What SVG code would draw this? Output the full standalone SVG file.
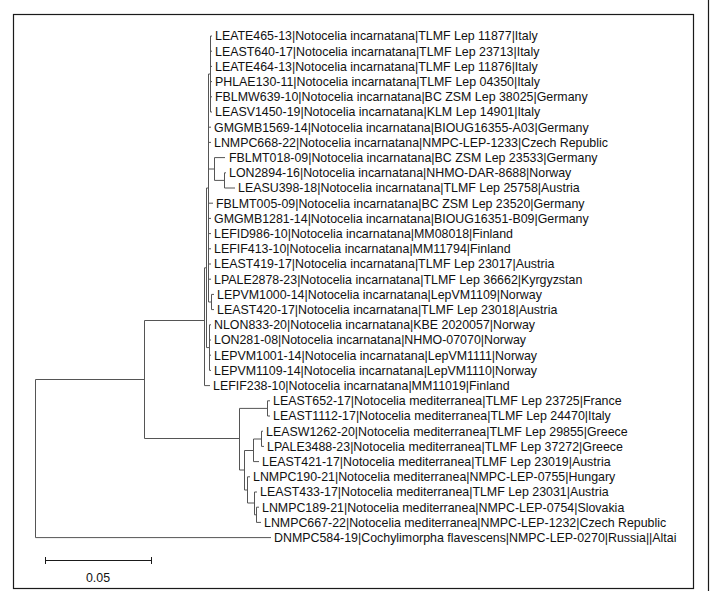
<svg xmlns="http://www.w3.org/2000/svg" width="710" height="607" viewBox="0 0 710 607">
<style>
.t{font-family:"Liberation Sans",Arial,sans-serif;font-size:12.4px;fill:#111}
.b{fill:none;stroke:#555;stroke-width:1}
.f{fill:none;stroke:#1a1a1a;stroke-width:1.2}
</style>
<rect width="710" height="607" fill="#fff"/>
<rect class="f" x="13.5" y="14.5" width="680" height="574"/>
<line class="f" x1="708.5" y1="0" x2="708.5" y2="591"/>
<g id="branches">
<path class="b" d="M35.5 379.5V537.6M35.5 379.5H144.5M35.5 537.6H271"/>
<path class="b" d="M144.5 320.5V438.5M144.5 320.5H204.5M144.5 438.5H239.5"/>
<path class="b" d="M204.5 267.8V385.6H210M204.5 267.8H206.5M206.5 188V347.6M206.5 188H208.5M206.5 347.6H209.5"/>
<path class="b" d="M208.5 74V302M208.5 74H210.5M210.5 36V112M210.5 36H212M210.5 51.2H212M210.5 66.4H212M210.5 81.6H212M210.5 96.8H212M210.5 112H212"/>
<path class="b" d="M208.5 127.2H211M208.5 142.4H211M208.5 169H214.5M214.5 157.6V180.4M214.5 157.6H225M214.5 180.4H224.5M224.5 172.8V188M224.5 172.8H226M224.5 188H235"/>
<path class="b" d="M208.5 203.2H213M208.5 218.4H211M208.5 233.6H211M208.5 248.8H211M208.5 264H211M208.5 279.2H211M208.5 302H211.5M211.5 294.4V309.6M211.5 294.4H214M211.5 309.6H214"/>
<path class="b" d="M209.5 324.8V370.4M209.5 324.8H211M209.5 340H211M209.5 355.2H211M209.5 370.4H211"/>
<path class="b" d="M239.5 408.4V470M239.5 408.4H267.5M267.5 400.8V416M267.5 400.8H270M267.5 416H270"/>
<path class="b" d="M239.5 470H244.5M244.5 450.5V490M244.5 450.5H253.5M253.5 439V461.6M253.5 439H261.5M261.5 431.2V446.4M261.5 431.2H263M261.5 446.4H264M253.5 461.6H259"/>
<path class="b" d="M244.5 490H247.5M247.5 476.8V503M247.5 476.8H250M247.5 503H254.5M254.5 492V514.8M254.5 492H257M254.5 514.8H256.5M256.5 507.2V522.4M256.5 507.2H259M256.5 522.4H261"/>
</g>
<g id="n1"><text class="t" x="215" y="40.3">LEATE465-13|Notocelia incarnatana|TLMF Lep 11877|Italy</text></g>
<g id="n2"><text class="t" x="215" y="55.5">LEAST640-17|Notocelia incarnatana|TLMF Lep 23713|Italy</text></g>
<g id="n3"><text class="t" x="215" y="70.7">LEATE464-13|Notocelia incarnatana|TLMF Lep 11876|Italy</text></g>
<g id="n4"><text class="t" x="215" y="85.9">PHLAE130-11|Notocelia incarnatana|TLMF Lep 04350|Italy</text></g>
<g id="n5"><text class="t" x="215" y="101.1">FBLMW639-10|Notocelia incarnatana|BC ZSM Lep 38025|Germany</text></g>
<g id="n6"><text class="t" x="215" y="116.3">LEASV1450-19|Notocelia incarnatana|KLM Lep 14901|Italy</text></g>
<g id="n7"><text class="t" x="214" y="131.5">GMGMB1569-14|Notocelia incarnatana|BIOUG16355-A03|Germany</text></g>
<g id="n8"><text class="t" x="214" y="146.7">LNMPC668-22|Notocelia incarnatana|NMPC-LEP-1233|Czech Republic</text></g>
<g id="n9"><text class="t" x="229" y="161.9">FBLMT018-09|Notocelia incarnatana|BC ZSM Lep 23533|Germany</text></g>
<g id="n10"><text class="t" x="229" y="177.1">LON2894-16|Notocelia incarnatana|NHMO-DAR-8688|Norway</text></g>
<g id="n11"><text class="t" x="238" y="192.3">LEASU398-18|Notocelia incarnatana|TLMF Lep 25758|Austria</text></g>
<g id="n12"><text class="t" x="216" y="207.5">FBLMT005-09|Notocelia incarnatana|BC ZSM Lep 23520|Germany</text></g>
<g id="n13"><text class="t" x="214" y="222.7">GMGMB1281-14|Notocelia incarnatana|BIOUG16351-B09|Germany</text></g>
<g id="n14"><text class="t" x="214" y="237.9">LEFID986-10|Notocelia incarnatana|MM08018|Finland</text></g>
<g id="n15"><text class="t" x="214" y="253.1">LEFIF413-10|Notocelia incarnatana|MM11794|Finland</text></g>
<g id="n16"><text class="t" x="214" y="268.3">LEAST419-17|Notocelia incarnatana|TLMF Lep 23017|Austria</text></g>
<g id="n17"><text class="t" x="214" y="283.5">LPALE2878-23|Notocelia incarnatana|TLMF Lep 36662|Kyrgyzstan</text></g>
<g id="n18"><text class="t" x="217" y="298.7">LEPVM1000-14|Notocelia incarnatana|LepVM1109|Norway</text></g>
<g id="n19"><text class="t" x="217" y="313.9">LEAST420-17|Notocelia incarnatana|TLMF Lep 23018|Austria</text></g>
<g id="n20"><text class="t" x="214" y="329.1">NLON833-20|Notocelia incarnatana|KBE 2020057|Norway</text></g>
<g id="n21"><text class="t" x="214" y="344.3">LON281-08|Notocelia incarnatana|NHMO-07070|Norway</text></g>
<g id="n22"><text class="t" x="214" y="359.5">LEPVM1001-14|Notocelia incarnatana|LepVM1111|Norway</text></g>
<g id="n23"><text class="t" x="214" y="374.7">LEPVM1109-14|Notocelia incarnatana|LepVM1110|Norway</text></g>
<g id="n24"><text class="t" x="213" y="389.9">LEFIF238-10|Notocelia incarnatana|MM11019|Finland</text></g>
<g id="n25"><text class="t" x="273" y="405.1">LEAST652-17|Notocelia mediterranea|TLMF Lep 23725|France</text></g>
<g id="n26"><text class="t" x="273" y="420.3">LEAST1112-17|Notocelia mediterranea|TLMF Lep 24470|Italy</text></g>
<g id="n27"><text class="t" x="266" y="435.5">LEASW1262-20|Notocelia mediterranea|TLMF Lep 29855|Greece</text></g>
<g id="n28"><text class="t" x="267" y="450.7">LPALE3488-23|Notocelia mediterranea|TLMF Lep 37272|Greece</text></g>
<g id="n29"><text class="t" x="262" y="465.9">LEAST421-17|Notocelia mediterranea|TLMF Lep 23019|Austria</text></g>
<g id="n30"><text class="t" x="253" y="481.1">LNMPC190-21|Notocelia mediterranea|NMPC-LEP-0755|Hungary</text></g>
<g id="n31"><text class="t" x="260" y="496.3">LEAST433-17|Notocelia mediterranea|TLMF Lep 23031|Austria</text></g>
<g id="n32"><text class="t" x="262" y="511.5">LNMPC189-21|Notocelia mediterranea|NMPC-LEP-0754|Slovakia</text></g>
<g id="n33"><text class="t" x="264" y="526.7">LNMPC667-22|Notocelia mediterranea|NMPC-LEP-1232|Czech Republic</text></g>
<g id="n34"><text class="t" x="274" y="541.9">DNMPC584-19|Cochylimorpha flavescens|NMPC-LEP-0270|Russia||Altai</text></g>
<g id="scalebar">
<path class="f" d="M45.5 560.5H151.5M45.5 557V564M151.5 557V564" style="stroke-width:1"/>
<text class="t" x="98" y="581.5" text-anchor="middle">0.05</text>
</g>
</svg>
